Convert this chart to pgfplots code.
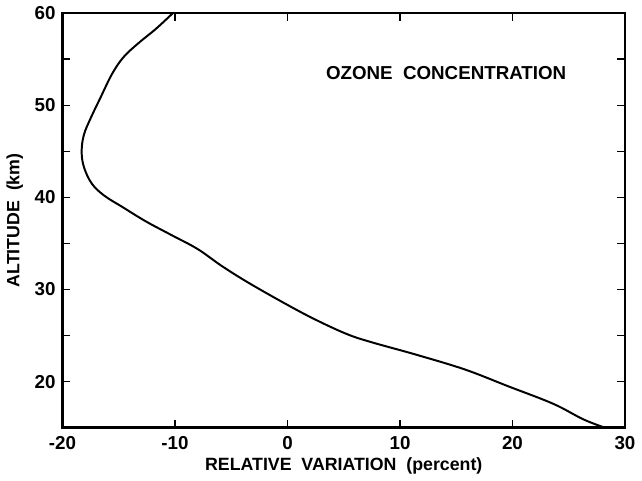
\documentclass[border=0pt]{standalone}
\usepackage{pgfplots}
\pgfplotsset{compat=1.18}
\usepackage{fontspec}
\setmainfont{Liberation Sans}
\begin{document}
\begin{tikzpicture}
\begin{axis}[
  scale only axis,
  width=285pt, height=210pt,
  xmin=-20, xmax=30, ymin=15, ymax=60,
  xtick={-20,-10,...,30},
  ytick={20,25,...,60},
  yticklabels={20,,30,,40,,50,,60},
  tick align=inside,
  major tick length=4pt,
  tick style={black, line width=0.8pt},
  axis line style={line width=1.3pt},
  /pgf/number format/assume math mode=true,
  ticklabel style={font=\fontsize{9.5}{11}\selectfont\bfseries},
  xticklabel style={yshift=-1pt},
  xlabel={RELATIVE\ \ VARIATION\ \ (percent)},
  ylabel={ALTITUDE\ \ (km)},
  label style={font=\fontsize{9}{10}\selectfont\bfseries},
  xlabel style={yshift=3pt},
  ylabel style={yshift=-1pt},
  clip=false,
]
\addplot[black, line width=1pt, smooth, tension=0.6] coordinates {
(-10.2,60)
(-11.7,58.3)
(-13.3,56.7)
(-14.6,55.2)
(-15.6,53.4)
(-16.6,50.9)
(-17.5,48.6)
(-18.1,46.8)
(-18.3,45.0)
(-18.1,43.3)
(-17.4,41.5)
(-16.3,40.2)
(-14.6,38.9)
(-12.6,37.4)
(-10.3,35.9)
(-8.0,34.4)
(-5.9,32.6)
(-3.7,30.9)
(-0.7,28.8)
(2.2,26.9)
(5.2,25.2)
(7.4,24.3)
(11.5,22.9)
(15.8,21.3)
(19.6,19.5)
(23.6,17.6)
(26.3,15.9)
(28.2,15)
};
\node[font=\fontsize{9.5}{11}\selectfont\bfseries] at (axis cs:14.1,53.5) {OZONE\ \ CONCENTRATION};
\end{axis}
\end{tikzpicture}
\end{document}
